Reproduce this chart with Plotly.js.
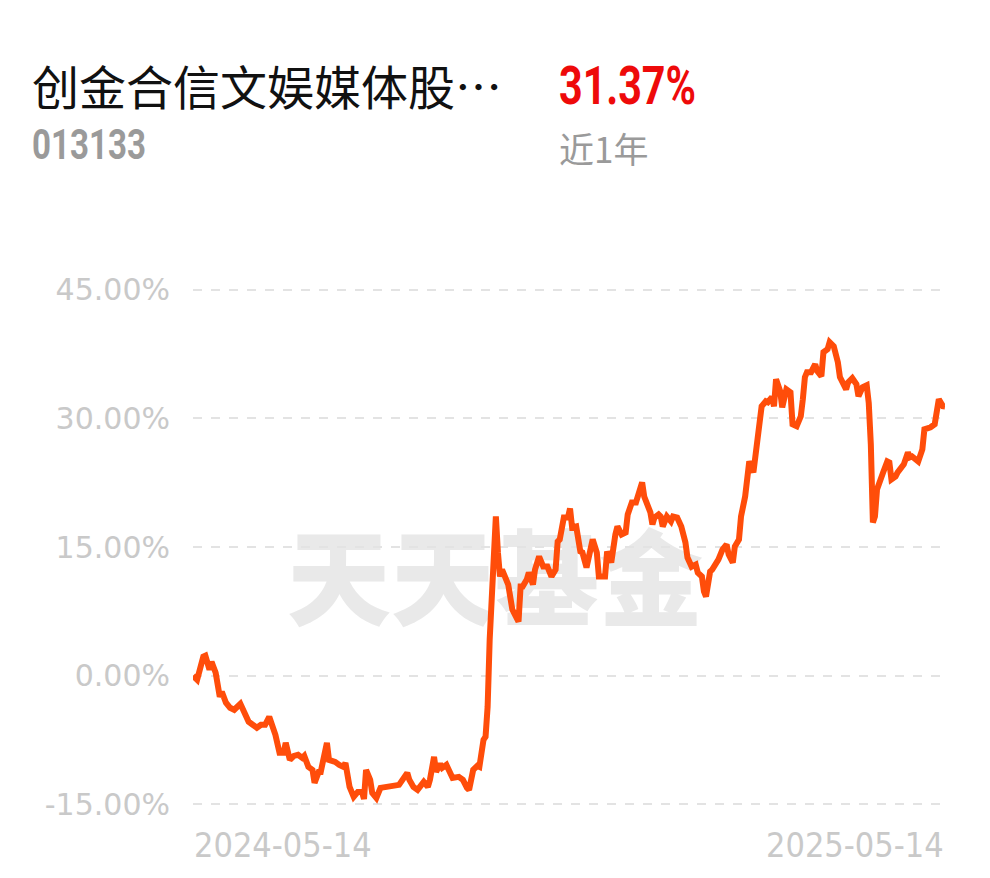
<!DOCTYPE html>
<html>
<head>
<meta charset="utf-8">
<script src="https://cdn.plot.ly/plotly-3.0.1.min.js"></script>
<style>
  html, body { margin: 0; padding: 0; background: #ffffff; }
  #chart { width: 990px; height: 878px; }
</style>
</head>
<body>
<div id="chart"></div>
<script>
// ---- data ----
const fundName = "创金合信文娱媒体股…";
const fundCode = "013133";
const periodReturn = "31.37%";
const periodLabel = "近1年";
const watermarkText = "天天基金";
const startDate = "2024-05-14";
const endDate = "2025-05-14";
const xTickLabels = ["2024-05-14", "2025-05-14"];
const yTickVals = [-15, 0, 15, 30, 45];
const yTickText = ["-15.00%", "0.00%", "15.00%", "30.00%", "45.00%"];

// calendar days since 2024-05-14
const dayOffsets = [0,2,5,6,8,9,11,13,14,16,18,20,23,25,27,29,31,33,35,37,
  40,42,44,45,47,49,51,53,54,56,58,59,61,62,64,65,66,69,71,73,
  74,76,78,80,82,83,84,86,87,89,91,94,97,100,101,104,105,107,109,110,
  112,114,115,117,118,120,121,123,125,126,129,131,133,134,136,138,139,140,141,142,
  143,144,147,148,149,150,152,153,155,157,158,159,160,162,163,165,166,168,170,172,
  174,176,177,178,180,182,183,184,186,188,189,191,193,194,196,197,199,200,201,203,
  205,206,208,210,211,213,215,216,218,219,221,222,223,224,226,227,228,230,232,233,
  235,237,239,240,242,244,245,247,248,249,251,252,255,257,259,260,262,263,265,266,
  268,269,270,272,273,274,276,278,279,281,282,283,285,286,288,290,291,293,295,296,
  297,298,300,302,303,305,306,308,309,311,313,314,315,317,318,320,322,323,325,327,
  328,329,330,331,332,334,335,337,338,339,341,342,345,347,348,349,352,354,355,358,
  360,362,364,365];

// cumulative return, %
const returnPct = [0.00,-0.47,2.22,2.33,0.70,1.63,0.35,-2.45,-1.87,-3.15,-3.74,-3.97,-3.27,-4.32,-5.37,-5.72,-6.07,-5.72,-5.72,-4.79,
  -6.89,-8.99,-8.99,-7.82,-9.81,-9.34,-9.22,-9.57,-9.34,-10.62,-10.97,-12.49,-11.21,-11.21,-8.64,-7.82,-9.81,-10.04,-10.39,-10.62,
  -10.16,-12.96,-14.12,-13.54,-13.54,-14.36,-10.97,-12.14,-13.66,-14.24,-13.07,-12.96,-12.96,-12.72,-12.37,-11.32,-12.14,-12.96,-13.31,-13.07,
  -12.37,-12.96,-12.14,-9.46,-11.21,-10.27,-10.74,-10.39,-11.21,-11.91,-11.79,-12.14,-13.07,-13.31,-10.97,-10.51,-10.62,-8.29,-7.47,-7.12,
  -3.62,4.20,18.56,14.36,11.56,12.37,10.86,10.62,7.70,6.89,6.30,10.39,10.39,11.21,12.02,10.62,12.37,13.89,12.72,12.72,
  11.56,12.37,15.64,15.88,18.44,18.44,19.49,17.28,17.39,14.47,14.36,12.61,14.71,15.88,14.36,11.56,11.56,11.56,14.47,13.19,
  16.46,17.39,16.46,16.69,18.79,20.19,20.19,20.89,22.53,20.89,19.38,19.03,17.63,18.44,18.79,18.56,17.39,18.56,17.98,18.56,
  18.44,17.39,15.53,13.77,12.72,12.96,12.02,11.56,9.81,9.22,12.14,12.37,13.54,14.71,15.29,14.12,13.19,15.06,15.88,18.56,
  20.89,23.23,24.98,23.70,25.80,26.38,31.40,31.98,31.87,32.45,31.40,34.55,33.15,31.28,33.38,33.03,29.30,29.07,30.23,32.22,
  34.79,35.37,35.37,36.30,35.49,34.90,37.70,38.05,38.87,38.40,36.53,34.79,34.32,33.38,34.20,34.67,33.97,32.57,33.62,33.85,
  31.75,26.96,17.86,18.56,21.71,23.46,23.70,24.98,24.86,22.88,23.23,23.70,24.63,26.03,25.45,25.56,24.98,26.38,28.72,28.95,
  29.30,32.22,31.40,31.37];

// ---- build dates from offsets ----
const t0 = Date.UTC(2024, 4, 14);
const dates = dayOffsets.map(d => new Date(t0 + d * 86400000).toISOString().slice(0, 10));

// ---- layout geometry helpers (pixel -> paper) ----
const W = 990, H = 878;
const M = { l: 193, r: 45, t: 281, b: 65 };
const PW = W - M.l - M.r, PH = H - M.t - M.b;
const px = x => (x - M.l) / PW;
const py = y => (H - M.b - y) / PH;

const trace = {
  x: dates,
  y: returnPct,
  type: "scatter",
  mode: "lines",
  line: { color: "#ff4d0a", width: 6 },
  hoverinfo: "skip"
};

const grey = "#c9c9c9";

const layout = {
  width: W,
  height: H,
  margin: M,
  paper_bgcolor: "#ffffff",
  plot_bgcolor: "#ffffff",
  showlegend: false,
  xaxis: {
    type: "date",
    range: [startDate, endDate],
    showgrid: false,
    zeroline: false,
    showline: false,
    showticklabels: false,
    ticks: ""
  },
  yaxis: {
    range: [-16, 46],
    tickmode: "array",
    tickvals: yTickVals,
    ticktext: yTickText,
    showgrid: true,
    gridcolor: "#e3e3e3",
    gridwidth: 2,
    griddash: "dash",
    zeroline: false,
    showline: false,
    ticks: "",
    ticklabelstandoff: 22,
    tickfont: { family: "DejaVu Sans", size: 30, color: grey }
  },
  shapes: [{
    type: "rect", xref: "paper", yref: "paper", layer: "below",
    x0: px(285), x1: px(705), y0: py(636), y1: py(543),
    line: { width: 0, color: "rgba(0,0,0,0)" },
    fillcolor: "rgba(0,0,0,0)",
    label: {
      text: watermarkText,
      textposition: "middle center",
      font: { family: "Noto Sans CJK SC", size: 104, color: "#e9e9e9", weight: 900 }
    }
  }],
  annotations: [
    { text: fundName, xref: "paper", yref: "paper", x: px(30), y: py(85),
      xanchor: "left", yanchor: "middle", showarrow: false,
      font: { family: "Noto Sans CJK SC", size: 47, color: "#111111" } },
    { name: "narrow", text: periodReturn, xref: "paper", yref: "paper", x: px(557), y: py(86),
      xanchor: "left", yanchor: "middle", showarrow: false,
      font: { family: "Roboto", size: 54, color: "#ee0a0a", weight: 700 } },
    { name: "narrow", text: fundCode, xref: "paper", yref: "paper", x: px(30), y: py(145),
      xanchor: "left", yanchor: "middle", showarrow: false,
      font: { family: "Roboto", size: 42, color: "#9a9a9a", weight: 700 } },
    { text: periodLabel, xref: "paper", yref: "paper", x: px(557), y: py(147),
      xanchor: "left", yanchor: "middle", showarrow: false,
      font: { family: "Noto Sans CJK SC", size: 35, color: "#9a9a9a" } },
    { text: xTickLabels[0], xref: "paper", yref: "paper", x: px(192), y: py(845),
      xanchor: "left", yanchor: "middle", showarrow: false,
      font: { family: "DejaVu Sans Condensed", size: 34, color: grey } },
    { text: xTickLabels[1], xref: "paper", yref: "paper", x: px(946), y: py(845),
      xanchor: "right", yanchor: "middle", showarrow: false,
      font: { family: "DejaVu Sans Condensed", size: 34, color: grey } }
  ]
};

Plotly.newPlot("chart", [trace], layout, { staticPlot: true, displayModeBar: false }).then(gd => {
  // emulate the condensed bold face of the header numbers
  const targets = { [periodReturn]: 137, [fundCode]: 114 };
  document.querySelectorAll("#chart text.annotation-text").forEach(t => {
    const want = targets[t.textContent];
    if (!want) return;
    const bb = t.getBBox();
    const s = want / bb.width;
    const x0 = bb.x;
    t.setAttribute("transform", `translate(${x0},0) scale(${s},1) translate(${-x0},0)`);
  });
});
</script>
</body>
</html>
